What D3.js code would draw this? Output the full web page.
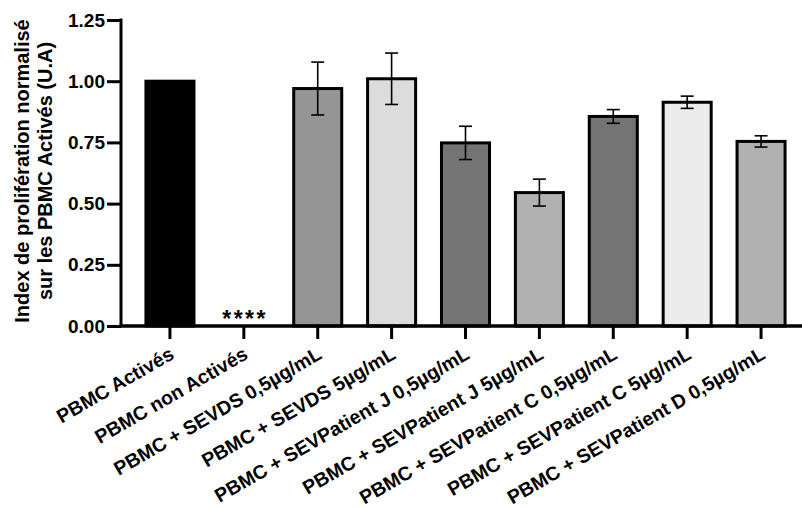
<!DOCTYPE html>
<html>
<head>
<meta charset="utf-8">
<script src="https://cdn.jsdelivr.net/npm/d3@7"></script>
<style>
  html, body { margin: 0; padding: 0; background: #fff; }
  svg { display: block; }
  text { font-family: "Liberation Sans", Arial, sans-serif; font-weight: bold; fill: #000; }
</style>
</head>
<body>
<svg id="chart" width="802" height="508"></svg>
<script>
const categories = [
  "PBMC Activés",
  "PBMC non Activés",
  "PBMC + SEVDS 0,5µg/mL",
  "PBMC + SEVDS 5µg/mL",
  "PBMC + SEVPatient J 0,5µg/mL",
  "PBMC + SEVPatient J 5µg/mL",
  "PBMC + SEVPatient C 0,5µg/mL",
  "PBMC + SEVPatient C 5µg/mL",
  "PBMC + SEVPatient D 0,5µg/mL"
];
const means  = [1.00, 0.00, 0.97, 1.01, 0.748, 0.545, 0.856, 0.914, 0.754];
const errors = [0, 0, 0.108, 0.105, 0.068, 0.055, 0.028, 0.025, 0.023];
const fills  = ["#000000", "#ffffff", "#959595", "#dcdcdc", "#747474", "#b1b1b1", "#747474", "#ececec", "#b1b1b1"];
const yTicks = [0, 0.25, 0.5, 0.75, 1.0, 1.25];
const annotations = ["", "****", "", "", "", "", "", "", ""];
const yTitle = ["Index de prolifération normalisé", "sur les PBMC Activés  (U.A)"];

const svg = d3.select("#chart");
const axisX = 121, baseY = 326, topY = 20;

const x = d3.scaleBand().domain(categories).range([133, 798]).padding(0);
const y = d3.scaleLinear().domain([0, 1.25]).range([baseY, topY]);
const barW = x.bandwidth() * 0.65;
const cx = d => x(d) + x.bandwidth() / 2;

// bars
const data = categories.map((c, i) => ({ c, m: means[i], e: errors[i], f: fills[i], a: annotations[i] }));
svg.append("g").selectAll("rect")
  .data(data.filter(d => d.m > 0))
  .join("rect")
  .attr("x", d => cx(d.c) - barW / 2)
  .attr("width", barW)
  .attr("y", d => y(d.m))
  .attr("height", d => y(0) - y(d.m))
  .attr("fill", d => d.f)
  .attr("stroke", "#000")
  .attr("stroke-width", 3);

// error bars
const eb = svg.append("g").attr("stroke", "#000").attr("stroke-width", 1.6);
data.filter(d => d.e > 0).forEach(d => {
  const X = cx(d.c);
  eb.append("line").attr("x1", X).attr("x2", X).attr("y1", y(d.m - d.e)).attr("y2", y(d.m + d.e));
  eb.append("line").attr("x1", X - 6.5).attr("x2", X + 6.5).attr("y1", y(d.m + d.e)).attr("y2", y(d.m + d.e));
  eb.append("line").attr("x1", X - 6.5).attr("x2", X + 6.5).attr("y1", y(d.m - d.e)).attr("y2", y(d.m - d.e));
});

// annotations
svg.append("g").selectAll("text")
  .data(data.filter(d => d.a))
  .join("text")
  .attr("x", d => cx(d.c) + 1.2)
  .attr("y", baseY + 1)
  .attr("text-anchor", "middle")
  .style("font-size", "23px")
  .style("letter-spacing", "2.4px")
  .style("font-weight", "bold")
  .text(d => d.a);

// y axis
const yAxis = d3.axisLeft(y).tickValues(yTicks).tickFormat(d3.format(".2f")).tickSize(14).tickPadding(2);
const gy = svg.append("g").attr("transform", `translate(${axisX},0)`).call(yAxis);
gy.select(".domain").attr("d", `M0,${y(1.25) - 1.5}V${y(0)}`).attr("stroke", "#000").attr("stroke-width", 3);
gy.selectAll(".tick line").attr("stroke", "#000").attr("stroke-width", 3);
gy.selectAll(".tick text").style("font-size", "19px").style("font-family", "Liberation Sans, Arial, sans-serif").style("font-weight", "bold");

// x axis
const xAxis = d3.axisBottom(x).tickSize(13).tickFormat("");
const gx = svg.append("g").attr("transform", `translate(0,${baseY})`).call(xAxis);
gx.select(".domain").attr("d", `M${axisX - 1.5},0H802`).attr("stroke", "#000").attr("stroke-width", 3.5);
gx.selectAll(".tick line").attr("stroke", "#000").attr("stroke-width", 3);

// x labels
svg.append("g").selectAll("text")
  .data(categories)
  .join("text")
  .attr("transform", d => `translate(${cx(d) + 2},${baseY + 26}) rotate(-30)`)
  .attr("text-anchor", "end")
  .attr("dy", "0.35em")
  .style("font-size", "19.5px")
  .text(d => d);

// y title
svg.append("g").selectAll("text")
  .data(yTitle)
  .join("text")
  .attr("transform", (d, i) => `translate(${28.5 + i * 23},171) rotate(-90)`)
  .attr("text-anchor", "middle")
  .style("font-size", "20px")
  .text(d => d);
</script>
</body>
</html>
